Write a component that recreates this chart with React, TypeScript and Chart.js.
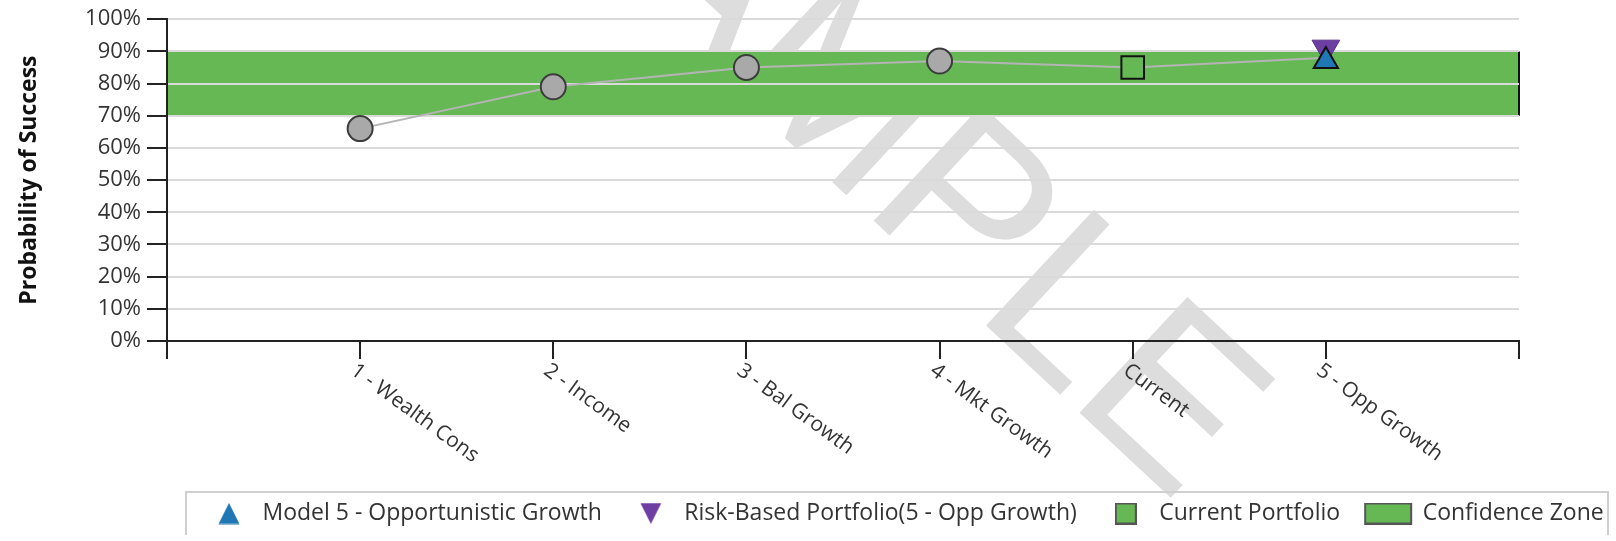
import React, { useEffect, useRef } from 'react';
import { Chart, registerables } from 'chart.js';

Chart.register(...registerables);

// ---------- data ----------
const categories = ['1 - Wealth Cons', '2 - Income', '3 - Bal Growth', '4 - Mkt Growth', 'Current', '5 - Opp Growth'];
const modelCategories = ['1 - Wealth Cons', '2 - Income', '3 - Bal Growth', '4 - Mkt Growth'];
const modelValues = [66, 79, 85, 87];
const trendValues = [66, 79, 85, 87, 85, 88];
const currentCategory = 'Current';
const currentValue = 85;
const model5Category = '5 - Opp Growth';
const model5Value = 87;
const riskBasedValue = 91;
const confidenceZone = [70, 90];
const yTickValues = [0, 10, 20, 30, 40, 50, 60, 70, 80, 90, 100];
const legendLabels = [
  'Model 5 - Opportunistic Growth',
  'Risk-Based Portfolio(5 - Opp Growth)',
  'Current Portfolio',
  'Confidence Zone',
];
const yAxisTitle = 'Probability of Success';
const watermarkText = 'SAMPLE';

// ---------- styles ----------
const FONT = '"Open Sans", "Noto Sans", sans-serif';
const GREEN = '#66b855';
const BLUE = '#1f77b4';
const PURPLE = '#6e3fa3';
const TEXT = '#333333';

function makeIcon(kind: string): HTMLCanvasElement {
  const c = document.createElement('canvas');
  const w = kind === 'zone' ? 58 : 22;
  c.width = w;
  c.height = 22;
  const ctx = c.getContext('2d')!;
  if (kind === 'up') {
    ctx.fillStyle = BLUE;
    ctx.beginPath();
    ctx.moveTo(11, 0.5);
    ctx.lineTo(21.5, 21.5);
    ctx.lineTo(0.5, 21.5);
    ctx.closePath();
    ctx.fill();
  } else if (kind === 'down') {
    ctx.fillStyle = PURPLE;
    ctx.beginPath();
    ctx.moveTo(0.5, 0.5);
    ctx.lineTo(21.5, 0.5);
    ctx.lineTo(11, 21.5);
    ctx.closePath();
    ctx.fill();
  } else if (kind === 'square') {
    ctx.fillStyle = GREEN;
    ctx.fillRect(1, 1, 20, 20);
    ctx.strokeStyle = '#555';
    ctx.lineWidth = 2;
    ctx.strokeRect(1, 1, 20, 20);
  } else {
    ctx.fillStyle = GREEN;
    ctx.fillRect(5, 1, 46, 20);
    ctx.strokeStyle = '#555';
    ctx.lineWidth = 2;
    ctx.strokeRect(5, 1, 46, 20);
  }
  return c;
}

const backgroundPlugin = {
  id: 'backgroundLayers',
  beforeDraw(chart: any) {
    const { ctx, chartArea, scales } = chart;
    // watermark
    ctx.save();
    ctx.translate(880, 140);
    ctx.rotate((43 * Math.PI) / 180);
    ctx.font = `230px "Liberation Sans", Arial, sans-serif`;
    ctx.fillStyle = '#dddddd';
    ctx.textAlign = 'center';
    ctx.textBaseline = 'middle';
    ctx.fillText(watermarkText, 0, 0);
    ctx.restore();
    // confidence zone band
    const yTop = scales.y.getPixelForValue(confidenceZone[1]);
    const yBot = scales.y.getPixelForValue(confidenceZone[0]);
    ctx.save();
    ctx.fillStyle = GREEN;
    ctx.fillRect(chartArea.left, yTop, chartArea.right - chartArea.left, yBot - yTop);
    ctx.strokeStyle = '#111';
    ctx.lineWidth = 2;
    ctx.beginPath();
    ctx.moveTo(chartArea.right, yTop);
    ctx.lineTo(chartArea.right, yBot);
    ctx.stroke();
    ctx.restore();
  },
};

const xLabelPlugin = {
  id: 'xLabels',
  afterDraw(chart: any) {
    const { ctx } = chart;
    const xs = chart.scales.x;
    const labels = xs.getLabels();
    ctx.save();
    ctx.font = `21px ${FONT}`;
    ctx.fillStyle = TEXT;
    ctx.textAlign = 'left';
    ctx.textBaseline = 'top';
    categories.forEach((c) => {
      const x = xs.getPixelForValue(labels.indexOf(c));
      ctx.save();
      ctx.translate(x - 1, xs.top + 19);
      ctx.rotate((36 * Math.PI) / 180);
      ctx.fillText(c, 0, 0);
      ctx.restore();
    });
    ctx.restore();
  },
};

const legendBoxPlugin = {
  id: 'legendBox',
  afterLayout(chart: any) {
    const lg = chart.legend;
    if (lg) {
      const w = lg.right - lg.left;
      lg.left = 180;
      lg.right = 180 + w;
    }
  },
  afterDraw(chart: any) {
    const { ctx } = chart;
    ctx.save();
    ctx.strokeStyle = '#cfcfcf';
    ctx.lineWidth = 2;
    ctx.strokeRect(186, 492, 1422, 80);
    ctx.restore();
  },
};

export default function App() {
  const canvasRef = useRef<HTMLCanvasElement | null>(null);

  useEffect(() => {
    let chart: Chart | null = null;
    let cancelled = false;
    const build = () => {
      if (cancelled || !canvasRef.current) return;
      const icons = [makeIcon('up'), makeIcon('down'), makeIcon('square'), makeIcon('zone')];
      const xLabels = ['', ...categories, ''];
      chart = new Chart(canvasRef.current, {
        type: 'line',
        data: {
          labels: xLabels,
          datasets: [
            {
              label: legendLabels[0],
              data: [{ x: model5Category, y: model5Value }],
              showLine: false,
              pointStyle: 'triangle',
              pointRadius: 14,
              backgroundColor: BLUE,
              borderColor: '#111',
              borderWidth: 2,
            },
            {
              label: legendLabels[1],
              data: [{ x: model5Category, y: riskBasedValue }],
              showLine: false,
              pointStyle: 'triangle',
              rotation: 180,
              pointRadius: 16,
              backgroundColor: PURPLE,
              borderColor: '#5a2f8a',
              borderWidth: 1,
            },
            {
              label: legendLabels[2],
              data: [{ x: currentCategory, y: currentValue }],
              showLine: false,
              pointStyle: 'rect',
              pointRadius: 16,
              backgroundColor: GREEN,
              borderColor: '#111',
              borderWidth: 2,
            },
            {
              label: 'Models',
              data: modelCategories.map((c, i) => ({ x: c, y: modelValues[i] })),
              showLine: false,
              pointStyle: 'circle',
              pointRadius: 12.5,
              backgroundColor: '#a9a9a9',
              borderColor: '#3c3c3c',
              borderWidth: 2,
            },
            {
              label: 'Trend',
              data: categories.map((c, i) => ({ x: c, y: trendValues[i] })),
              borderColor: '#b4b4b4',
              borderWidth: 2,
              pointRadius: 0,
              tension: 0,
              fill: false,
            },
          ],
        },
        options: {
          animation: false,
          responsive: false,
          events: [],
          layout: { padding: { top: 19, right: 97, left: 0, bottom: 0 } },
          scales: {
            x: {
              type: 'category',
              offset: false,
              ticks: { display: false },
              grid: {
                display: true,
                drawOnChartArea: false,
                drawTicks: true,
                tickLength: 18,
                color: '#222',
                tickColor: '#222',
                lineWidth: 2,
              },
              border: { display: true, color: '#222', width: 2 },
              afterFit: (s: any) => {
                s.height = 134;
              },
            },
            y: {
              min: 0,
              max: 100,
              afterBuildTicks: (s: any) => {
                s.ticks = yTickValues.map((v) => ({ value: v }));
              },
              ticks: {
                callback: (v: any) => `${v}%`,
                color: TEXT,
                font: { family: FONT, size: 22 },
                padding: 6,
              },
              grid: {
                color: '#dadada',
                lineWidth: 2,
                tickColor: '#222',
                tickLength: 20,
                drawTicks: true,
              },
              border: { display: true, color: '#222', width: 2 },
              title: {
                display: true,
                text: yAxisTitle,
                color: '#111',
                font: { family: FONT, size: 23, weight: 'bold' },
                padding: { top: 16, bottom: 0 },
              },
              afterFit: (s: any) => {
                s.width = 167;
              },
            },
          },
          plugins: {
            tooltip: { enabled: false },
            legend: {
              display: true,
              position: 'bottom',
              align: 'start',
              labels: {
                usePointStyle: true,
                pointStyleWidth: 44,
                boxHeight: 22,
                padding: 27,
                color: TEXT,
                font: { family: FONT, size: 23 },
                generateLabels: () =>
                  legendLabels.map((text, i) => ({
                    text,
                    pointStyle: icons[i],
                    fillStyle: 'rgba(0,0,0,0)',
                    strokeStyle: 'rgba(0,0,0,0)',
                    lineWidth: 0,
                    hidden: false,
                    datasetIndex: i,
                    fontColor: TEXT,
                  })),
              },
            },
          },
        },
        plugins: [backgroundPlugin, xLabelPlugin, legendBoxPlugin],
      } as any);
    };
    const fontsReady = (document as any).fonts
      ? Promise.all([
          (document as any).fonts.load(`22px "Open Sans"`),
          (document as any).fonts.load(`bold 23px "Open Sans"`),
          (document as any).fonts.load(`230px "Liberation Sans"`),
        ]).catch(() => null)
      : Promise.resolve(null);
    fontsReady.then(build);
    return () => {
      cancelled = true;
      if (chart) chart.destroy();
    };
  }, []);

  return (
    <div
      style={{
        position: 'fixed',
        left: 0,
        top: 0,
        width: 1616,
        height: 541,
        overflow: 'hidden',
        background: '#fff',
      }}
    >
      <canvas ref={canvasRef} width={1616} height={535} style={{ display: 'block' }} />
    </div>
  );
}
